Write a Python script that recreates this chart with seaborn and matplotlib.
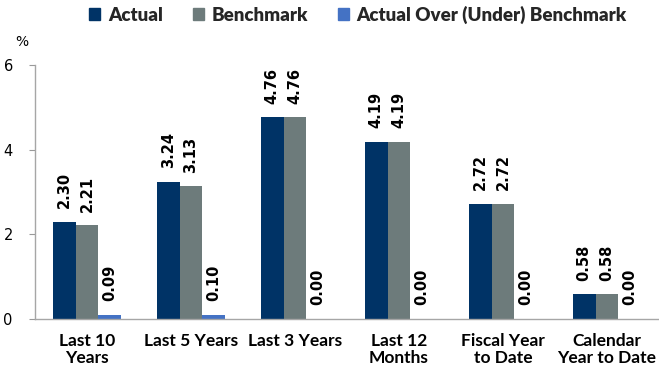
import matplotlib
matplotlib.use("Agg")
import matplotlib.pyplot as plt
import seaborn as sns
import pandas as pd

categories = ["Last 10\nYears", "Last 5 Years", "Last 3 Years", "Last 12\nMonths",
              "Fiscal Year\nto Date", "Calendar\nYear to Date"]
actual = [2.30, 3.24, 4.76, 4.19, 2.72, 0.58]
benchmark = [2.21, 3.13, 4.76, 4.19, 2.72, 0.58]
over_under = [0.09, 0.10, 0.00, 0.00, 0.00, 0.00]
series_names = ["Actual", "Benchmark", "Actual Over (Under) Benchmark"]
y_ticks = [0, 2, 4, 6]

colors = ["#003366", "#6D7B7B", "#4472C4"]

df = pd.DataFrame({
    "category": categories * 3,
    "series": [series_names[0]] * 6 + [series_names[1]] * 6 + [series_names[2]] * 6,
    "value": actual + benchmark + over_under,
})

sns.set_theme(style="white")
plt.rcParams["font.family"] = ["DejaVu Sans"]

fig = plt.figure(figsize=(6.59, 3.82), dpi=100)
ax = fig.add_axes([35 / 659, 1 - 319 / 382, 624 / 659, 254 / 382])

sns.barplot(data=df, x="category", y="value", hue="series", hue_order=series_names,
            order=categories, palette=colors, width=0.66, saturation=1,
            errorbar=None, ax=ax, legend=True, linewidth=0)

for container in ax.containers:
    ax.bar_label(container, labels=[f"{v:.2f}" for v in container.datavalues],
                 rotation=90, padding=10, fontsize=10.5, fontweight="bold",
                 color="black")

ax.set_ylim(0, 6)
ax.set_yticks(y_ticks)
ax.set_yticklabels([str(t) for t in y_ticks], fontsize=10.5, color="black")
ax.set_xlim(-0.5, len(categories) - 0.5)
ax.set_xlabel("")
ax.set_ylabel("")
for lbl in ax.get_xticklabels():
    lbl.set_fontfamily("Lato")
    lbl.set_fontweight("bold")
    lbl.set_fontsize(12.5)
    lbl.set_color("black")
    lbl.set_linespacing(1.1)
ax.tick_params(axis="x", length=0, pad=10)
ax.tick_params(axis="y", length=4, width=0.8, color="#999999", direction="out", pad=12, left=True)

for side in ["top", "right"]:
    ax.spines[side].set_visible(False)
for side in ["left", "bottom"]:
    ax.spines[side].set_color("#A6A6A6")
    ax.spines[side].set_linewidth(1.0)

ax.get_legend().remove()
handles = [plt.Rectangle((0, 0), 1, 1, color=c) for c in colors]
fig.legend(handles, series_names, loc="center", bbox_to_anchor=(358 / 659, 1 - 15 / 382),
           ncol=3, frameon=False, handlelength=0.6, handleheight=0.6, handletextpad=0.4,
           columnspacing=1.6, prop={"family": "Lato", "weight": "heavy", "size": 13.5})

fig.text(22 / 659, 1 - 42 / 382, "%", fontsize=10, ha="center", va="center", color="black")

fig.savefig("out.png", dpi=100)
